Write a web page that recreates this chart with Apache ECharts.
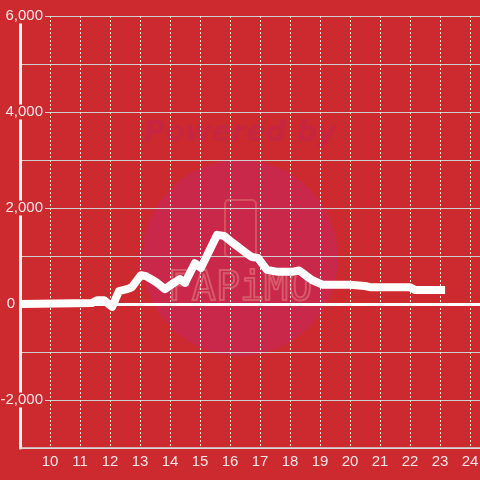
<!DOCTYPE html>
<html>
<head>
<meta charset="utf-8">
<script src="https://cdn.jsdelivr.net/npm/echarts@6/dist/echarts.min.js"></script>
<style>
html,body{margin:0;padding:0;background:#cd2a2f;}
#chart{width:480px;height:480px;}
</style>
</head>
<body>
<div id="chart"></div>
<script>
// hours of day (decimal) and values
var times = [9, 11.4, 11.57, 11.8, 12.07, 12.3, 12.57, 12.73, 13.03, 13.2, 13.53, 13.83, 14.13, 14.33, 14.5, 14.83, 15.03, 15.57, 15.8, 16.1, 16.5, 16.73, 16.93, 17.23, 17.6, 18.07, 18.3, 18.73, 19.1, 20.0, 20.5, 20.67, 22.0, 22.17, 23.17];
var values = [0, 20, 80, 80, -60, 270, 310, 350, 600, 580, 460, 310, 440, 520, 440, 850, 750, 1440, 1420, 1270, 1080, 980, 960, 710, 670, 670, 700, 500, 400, 400, 375, 350, 350, 290, 290];
var yLabelValues = [-2000, 0, 2000, 4000, 6000];

var bg = '#cd2a2f';
var FF = 'Liberation Sans';
var LC = '#f5e6e6';
var chart = echarts.init(document.getElementById('chart'));
var data = times.map(function (t, i) { return [t, values[i]]; });

chart.setOption({
  backgroundColor: bg,
  animation: false,
  textStyle: { fontFamily: FF },
  graphic: {
    z: -10,
    elements: [
      { type: 'circle', z: -10, silent: true, shape: { cx: 240, cy: 258, r: 98 }, style: { fill: '#c9284a' } },
      { type: 'text', z: -10, silent: true, x: 240, y: 133, style: { text: 'Powered by', fill: '#c6263f', fontFamily: 'DejaVu Sans', fontStyle: 'italic', fontWeight: 'bold', fontSize: 29, align: 'center', verticalAlign: 'middle' } },
      { type: 'rect', z: -10, silent: true, shape: { x: 225, y: 200, width: 31, height: 57, r: 4 }, style: { fill: 'none', stroke: '#d4505f', lineWidth: 2 } },
      { type: 'text', z: -10, silent: true, x: 240, y: 290, style: { text: 'FAPiMO', fill: 'none', stroke: '#d65a6a', lineWidth: 2, fontFamily: 'DejaVu Sans Mono', fontSize: 40, align: 'center', verticalAlign: 'middle' } }
    ]
  },
  grid: { left: 20, right: 0, top: 16, bottom: 32, containLabel: false, outerBoundsMode: 'none' },
  xAxis: {
    type: 'value',
    min: 9,
    max: 9 + 460 / 30,
    interval: 1,
    axisLine: { show: true, onZero: false, lineStyle: { color: '#d9d9d9', width: 1.5 } },
    axisTick: { show: false },
    axisLabel: {
      color: LC, fontSize: 15, fontFamily: FF, margin: 6,
      showMinLabel: false, showMaxLabel: false,
      formatter: function (v) { return String(v); }
    },
    splitLine: { show: true, lineStyle: { color: '#e6e6e6', width: 1, type: [2, 2] } }
  },
  yAxis: {
    type: 'value',
    min: -3000,
    max: 6000,
    interval: 1000,
    axisLine: { show: true, lineStyle: { color: '#f5f5f5', width: 3 } },
    axisTick: { show: false },
    axisLabel: {
      color: LC, fontSize: 15, fontFamily: FF, margin: -25, align: 'right',
      formatter: function (v) {
        if (v === 0) return '{z|0}';
        if (yLabelValues.indexOf(v) >= 0) return '{a|' + v.toLocaleString('en-US') + '}';
        return '';
      },
      rich: {
        a: { color: LC, fontSize: 15, fontFamily: FF, backgroundColor: bg, padding: [0, 2, 0, 12], lineHeight: 15 },
        z: { color: LC, fontSize: 15, fontFamily: FF, padding: [0, 30, 0, 0], lineHeight: 15 }
      }
    },
    splitLine: { show: true, lineStyle: { color: '#cfcfcf', width: 1 } }
  },
  series: [{
    type: 'line',
    data: data,
    symbol: 'none',
    smooth: false,
    lineStyle: { color: '#ffffff', width: 8, join: 'round' },
    markLine: {
      silent: true,
      symbol: ['none', 'none'],
      label: { show: false },
      lineStyle: { color: '#ffffff', width: 3, type: 'solid' },
      data: [{ yAxis: 0 }]
    }
  }]
});
</script>
</body>
</html>
